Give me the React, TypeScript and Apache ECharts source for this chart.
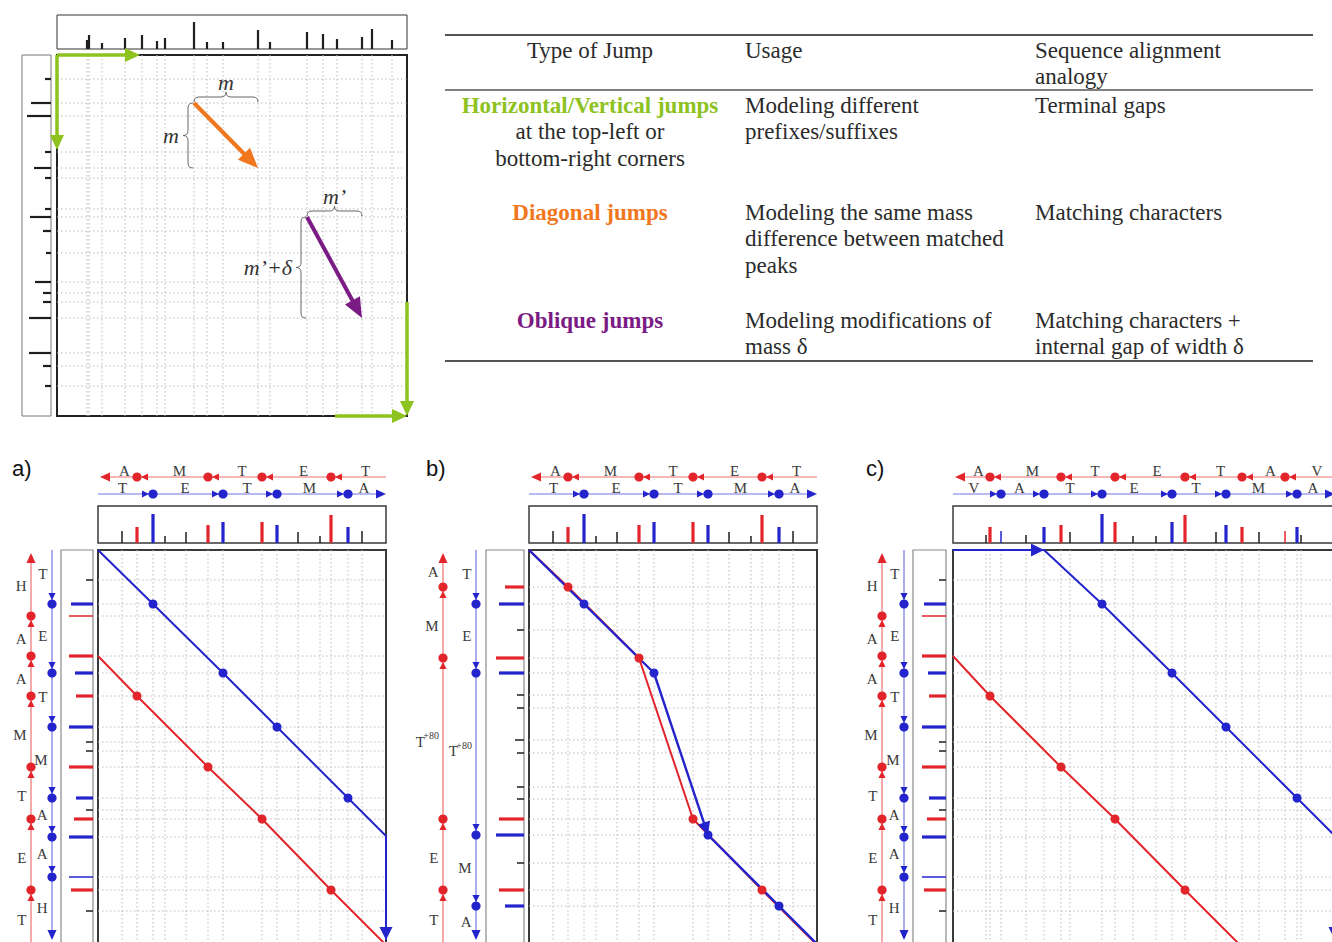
import React, { useEffect, useRef } from "react";
import * as echarts from "echarts";

const RED = "#e2242b";
const BLUE = "#2424cc";
const RED_LINE = "#ee7070";
const BLUE_LINE = "#7474e6";
const GREEN = "#8dc21f";
const ORANGE = "#f1771f";
const PURPLE = "#7a1c84";
const SERIF = "'Liberation Serif', 'Times New Roman', serif";
const SANS = "'Liberation Sans', Arial, sans-serif";
const TEXT = "#2b2b2b";

// ---------- overview spectrum graph (top-left) ----------
// [mass position, intensity]
const ovTopPeaks = [[30, 9], [32, 14], [45, 6], [68, 11], [85, 14], [100, 8], [108, 11], [137, 27], [150, 7], [166, 7], [201, 19], [213, 7], [250, 17], [266, 15], [280, 10], [305, 12], [315, 20], [335, 9]];
// [mass position, intensity]
const ovLeftPeaks = [[24, 6], [48, 20], [61, 24], [97, 6], [113, 17], [123, 6], [154, 6], [162, 21], [176, 8], [198, 5], [227, 16], [238, 8], [247, 8], [263, 22], [298, 22], [311, 8], [331, 6]];
// [x1, y1, x2, y2, kind]  kind 0 = horizontal/vertical, 1 = diagonal, 2 = oblique
const ovJumps = [[0, 0, 83, 0, 0], [0, 0, 0, 95, 0], [350, 247, 350, 361, 0], [278, 361, 350, 361, 0], [137, 48, 201, 113, 1], [250, 162, 305, 263, 2]];
const ovJumpLabels = [["", ""], ["m", "m"], ["m’", "m’+δ"]];

// ---------- spectra of panels a–c ----------
// [mass position, intensity, kind]  kind 0 = unexplained, 1 = prefix (red), 2 = suffix (blue), 3/4 = weak prefix/suffix
const specTETMA = [[24, 12, 0], [39, 16, 1], [55, 29, 2], [67, 7, 0], [88, 11, 0], [110, 18, 1], [125, 21, 2], [164, 21, 1], [179, 18, 2], [200, 11, 0], [222, 7, 0], [233, 28, 1], [250, 16, 2], [264, 12, 0]];
const specHAAMTET = [[30, 7, 0], [54, 22, 2], [66, 24, 3], [106, 24, 1], [123, 18, 2], [146, 17, 1], [177, 24, 2], [192, 7, 0], [201, 7, 0], [217, 24, 1], [248, 17, 2], [260, 7, 0], [269, 19, 1], [287, 24, 2], [327, 24, 4], [340, 22, 1], [361, 7, 0]];
const specAMT80ET = [[37, 19, 1], [54, 25, 2], [80, 7, 0], [108, 28, 1], [123, 25, 2], [145, 7, 0], [158, 7, 0], [190, 9, 0], [203, 7, 0], [237, 7, 0], [249, 7, 0], [269, 25, 1], [285, 28, 2], [313, 7, 0], [340, 25, 1], [356, 19, 2]];
const specVATETMA = [[33, 8, 0], [37, 16, 1], [48, 12, 4], [73, 8, 0], [91, 16, 2], [108, 18, 1], [117, 11, 0], [149, 29, 2], [162, 21, 1], [180, 7, 0], [203, 7, 0], [219, 21, 2], [232, 28, 1], [263, 11, 0], [273, 18, 2], [289, 16, 1], [306, 11, 0], [332, 12, 3], [344, 16, 2], [348, 8, 0]];

// ---------- sequences ----------
const aTopRed = ["A", "M", "T", "E", "T"];
const aTopBlue = ["T", "E", "T", "M", "A"];
const aLeftRed = ["H", "A", "A", "M", "T", "E", "T"];
const aLeftBlue = ["T", "E", "T", "M", "A", "A", "H"];
const bLeftRed = ["A", "M", "T+80", "E", "T"];
const bLeftBlue = ["T", "E", "T+80", "M", "A"];
const cTopRed = ["A", "M", "T", "E", "T", "A", "V"];
const cTopBlue = ["V", "A", "T", "E", "T", "M", "A"];

// ---------- alignment paths: [x mass, y mass, flag]  flag 1 = matched peak, 2 = arrow tip ----------
const aRed = [[0, 106, 0], [39, 146, 1], [110, 217, 1], [164, 269, 1], [233, 340, 1], [288, 395, 0]];
const aBlue = [[0, 0, 0], [55, 54, 1], [125, 123, 1], [179, 177, 1], [250, 248, 1], [288, 286, 0], [288, 390, 2]];
const bRed = [[0, 0, 0], [39, 37, 1], [110, 108, 1], [164, 269, 1], [233, 340, 1], [288, 395, 0]];
const bBlue = [[0, 0, 0], [55, 54, 1], [125, 123, 1], [179, 285, 3], [250, 356, 1], [288, 394, 0]];
const cRed = [[0, 106, 0], [37, 146, 1], [108, 217, 1], [162, 269, 1], [232, 340, 1], [290, 398, 0]];
const cBlue = [[0, 0, 0], [91, 0, 2], [149, 54, 1], [219, 123, 1], [273, 177, 1], [344, 248, 1], [382, 286, 0], [382, 390, 2]];

// ---------- table ----------
const tableHeader = ["Type of Jump", "Usage", "Sequence alignment|analogy"];
const tableJump = ["Horizontal/Vertical jumps", "Diagonal jumps", "Oblique jumps"];
const tableJumpNote = ["at the top-left or|bottom-right corners", "", ""];
const tableUsage = ["Modeling different|prefixes/suffixes", "Modeling the same mass|difference between matched|peaks", "Modeling modifications of|mass δ"];
const tableAnalogy = ["Terminal gaps", "Matching characters", "Matching characters +|internal gap of width δ"];
const tableColors = [GREEN, ORANGE, PURPLE];

const KIND_COLOR = ["#1e1e1e", RED, BLUE, RED, BLUE];

const txt = (text: string, x: number, y: number, o: any = {}) => ({
  type: "text",
  x,
  y,
  silent: true,
  z: o.z ?? 10,
  style: {
    text,
    fill: o.fill ?? TEXT,
    fontSize: o.size ?? 15,
    fontFamily: o.family ?? SERIF,
    fontStyle: o.italic ? "italic" : "normal",
    fontWeight: o.bold ? "bold" : "normal",
    align: o.align ?? "left",
    textAlign: o.align ?? "left",
    verticalAlign: o.va ?? "middle",
    textVerticalAlign: o.va ?? "middle",
  },
});

function unit(a: number[], b: number[]) {
  const dx = b[0] - a[0];
  const dy = b[1] - a[1];
  const L = Math.hypot(dx, dy) || 1;
  return [dx / L, dy / L];
}

function tri(tx: number, ty: number, u: number[], len: number, hw: number, color: string) {
  const nx = -u[1];
  const ny = u[0];
  return {
    type: "polygon",
    shape: {
      points: [
        [tx, ty],
        [tx - u[0] * len + nx * hw, ty - u[1] * len + ny * hw],
        [tx - u[0] * len - nx * hw, ty - u[1] * len - ny * hw],
      ],
    },
    style: { fill: color },
  };
}

function brace(ax: number, ay: number, bx: number, by: number, tx: number, ty: number, d: number, color: string) {
  const e = unit([ax, ay], [bx, by]);
  const mx = (ax + bx) / 2;
  const my = (ay + by) / 2;
  const st = { stroke: color, lineWidth: 1, fill: null };
  const q = (x1: number, y1: number, cx: number, cy: number, x2: number, y2: number) => ({ type: "bezierCurve", shape: { x1, y1, x2, y2, cpx1: cx, cpy1: cy }, style: st });
  const l = (x1: number, y1: number, x2: number, y2: number) => ({ type: "line", shape: { x1, y1, x2, y2 }, style: st });
  return [
    q(ax - tx * d, ay - ty * d, ax, ay, ax + e[0] * d, ay + e[1] * d),
    l(ax + e[0] * d, ay + e[1] * d, mx - e[0] * d, my - e[1] * d),
    q(mx - e[0] * d, my - e[1] * d, mx, my, mx + tx * d, my + ty * d),
    q(mx + tx * d, my + ty * d, mx, my, mx + e[0] * d, my + e[1] * d),
    l(mx + e[0] * d, my + e[1] * d, bx - e[0] * d, by - e[1] * d),
    q(bx - e[0] * d, by - e[1] * d, bx, by, bx - tx * d, by - ty * d),
  ];
}

function buildOption() {
  const grid: any[] = [];
  const xAxis: any[] = [];
  const yAxis: any[] = [];
  const series: any[] = [];
  const graphic: any[] = [];

  const addGrid = (left: number, top: number, width: number, height: number, xMax: number, yMax: number, xInv: boolean, yInv: boolean, border?: [string, number]) => {
    const i = grid.length;
    grid.push({
      left, top, width, height,
      show: !!border,
      borderColor: border ? border[0] : "transparent",
      borderWidth: border ? border[1] : 0,
      backgroundColor: "transparent",
      containLabel: false,
      outerBoundsMode: "none",
    });
    xAxis.push({ type: "value", gridIndex: i, min: 0, max: xMax, inverse: xInv, show: false, splitLine: { show: false } });
    yAxis.push({ type: "value", gridIndex: i, min: 0, max: yMax, inverse: yInv, show: false, splitLine: { show: false } });
    return i;
  };
  const custom = (g: number, data: any[], renderItem: any, z = 3) =>
    series.push({ type: "custom", xAxisIndex: g, yAxisIndex: g, data, renderItem, silent: true, z, clip: false });

  const topPeaks = (widths: number[]) => (params: any, api: any) => {
    const x = api.value(0);
    const h = api.value(1);
    const k = api.value(2) || 0;
    const a = api.coord([x, 0]);
    const b = api.coord([x, h]);
    return { type: "line", shape: { x1: a[0], y1: a[1], x2: b[0], y2: b[1] }, style: { stroke: KIND_COLOR[k], lineWidth: widths[k] } };
  };
  const sidePeaks = (widths: number[]) => (params: any, api: any) => {
    const y = api.value(0);
    const len = api.value(1);
    const k = api.value(2) || 0;
    const a = api.coord([0, y]);
    const b = api.coord([len, y]);
    return { type: "line", shape: { x1: a[0], y1: a[1], x2: b[0], y2: b[1] }, style: { stroke: KIND_COLOR[k], lineWidth: widths[k] } };
  };
  const dotted = { stroke: "#bcbcbc", lineWidth: 1, lineDash: [1.5, 2.5] };
  const vLines = (params: any, api: any) => {
    const cs = params.coordSys;
    const x = api.coord([api.value(0), 0])[0];
    return { type: "line", shape: { x1: x, y1: cs.y, x2: x, y2: cs.y + cs.height }, style: dotted };
  };
  const hLines = (params: any, api: any) => {
    const cs = params.coordSys;
    const y = api.coord([0, api.value(0)])[1];
    return { type: "line", shape: { x1: cs.x, y1: y, x2: cs.x + cs.width, y2: y }, style: dotted };
  };

  // ================= overview =================
  const ovL = 57, ovW = 350;
  const gOT = addGrid(ovL, 15, ovW, 34, ovW, 34, false, false, ["#333", 1]);
  const gOM = addGrid(ovL, 55, ovW, 361, ovW, 361, false, true, ["#222", 2]);
  const gOS = addGrid(22, 55, 29, 361, 29, 361, true, true, ["#777", 1]);
  custom(gOT, ovTopPeaks, topPeaks([2.2]));
  custom(gOS, ovLeftPeaks, sidePeaks([2.2]));
  custom(gOM, ovTopPeaks, vLines, 1);
  custom(gOM, ovLeftPeaks, hLines, 1);
  custom(gOM, ovJumps, (params: any, api: any) => {
    const k = api.value(4);
    const p1 = api.coord([api.value(0), api.value(1)]);
    const p2 = api.coord([api.value(2), api.value(3)]);
    const color = [GREEN, ORANGE, PURPLE][k];
    const lw = k === 0 ? 3.5 : 4;
    const len = k === 0 ? 15 : 20;
    const hw = k === 0 ? 7 : 8.5;
    const u = unit(p1, p2);
    const ch: any[] = [
      { type: "line", shape: { x1: p1[0], y1: p1[1], x2: p2[0] - u[0] * len * 0.7, y2: p2[1] - u[1] * len * 0.7 }, style: { stroke: color, lineWidth: lw } },
      tri(p2[0], p2[1], u, len, hw, color),
    ];
    if (k > 0) {
      const gap = 6, d = 5;
      const by = p1[1] - gap;
      const bx = p1[0] - gap;
      ch.push(...brace(p1[0], by, p2[0], by, 0, -1, d, "#666"));
      ch.push(...brace(bx, p1[1], bx, p2[1], -1, 0, d, "#666"));
      ch.push(txt(ovJumpLabels[k][0], (p1[0] + p2[0]) / 2, by - d - 10, { size: 22, italic: true, align: "center", fill: "#333" }));
      ch.push(txt(ovJumpLabels[k][1], bx - d - 4, (p1[1] + p2[1]) / 2, { size: 22, italic: true, align: "right", fill: "#333" }));
    }
    return { type: "group", children: ch };
  }, 6);

  // ================= panels a–c =================
  const panels = [
    { label: "a)", labelX: 12, left: 98, width: 288, sideLeft: 61, sideWidth: 32, redX: 31, blueX: 52, top: specTETMA, side: specHAAMTET, topRed: aTopRed, topBlue: aTopBlue, sideRed: aLeftRed, sideBlue: aLeftBlue, paths: [[aRed, RED, 2], [aBlue, BLUE, 2]] },
    { label: "b)", labelX: 426, left: 529, width: 288, sideLeft: 486, sideWidth: 38, redX: 443, blueX: 476, top: specTETMA, side: specAMT80ET, topRed: aTopRed, topBlue: aTopBlue, sideRed: bLeftRed, sideBlue: bLeftBlue, paths: [[bRed, RED, 2], [bBlue, BLUE, 2.4]] },
    { label: "c)", labelX: 866, left: 953, width: 382, sideLeft: 913, sideWidth: 33, redX: 882, blueX: 904, top: specVATETMA, side: specHAAMTET, topRed: cTopRed, topBlue: cTopBlue, sideRed: aLeftRed, sideBlue: aLeftBlue, paths: [[cRed, RED, 2], [cBlue, BLUE, 2]] },
  ];
  const MAT_TOP = 550, MAT_H = 420, SPEC_TOP = 506, SPEC_H = 37, SEQ_TOP = 465, SEQ_H = 35, SIDE_SPAN = 394;
  const widths = [1.5, 3.2, 3.2, 1.5, 1.5];

  const seqRender = (s: any) => (params: any, api: any) => {
    const P = (along: number) => (s.orient === "h" ? api.coord([along, s.cross]) : api.coord([s.cross, along]));
    const a = P(s.from);
    const b = P(s.to);
    const u = unit(a, b);
    const ch: any[] = [
      { type: "line", shape: { x1: a[0], y1: a[1], x2: b[0] - u[0] * 6, y2: b[1] - u[1] * 6 }, style: { stroke: s.lineColor, lineWidth: 1.2 } },
      tri(b[0], b[1], u, 10, 4.5, s.color),
    ];
    s.breaks.forEach((p: number) => {
      const c = P(p);
      ch.push({ type: "circle", shape: { cx: c[0], cy: c[1], r: 4.6 }, style: { fill: s.color } });
      ch.push(tri(c[0] - u[0] * 4, c[1] - u[1] * 4, u, 7, 3.6, s.color));
    });
    const stops = [s.span[0], ...s.breaks, s.span[1]];
    s.letters.forEach((t: string, i: number) => {
      const c = P((stops[i] + stops[i + 1]) / 2 + s.offset);
      if (s.orient === "h") {
        ch.push(txt(t, c[0], c[1] - 6, { size: 15, align: "center", fill: "#3a3a3a" }));
      } else if (t.indexOf("+") > 0) {
        const base = t.slice(0, t.indexOf("+"));
        const sup = t.slice(t.indexOf("+"));
        ch.push(txt(sup, c[0] - 4, c[1] - 6, { size: 10, align: "right", fill: "#3a3a3a" }));
        ch.push(txt(base, c[0] - 18, c[1], { size: 15, align: "right", fill: "#3a3a3a" }));
      } else {
        ch.push(txt(t, c[0] - 4.5, c[1], { size: 15, align: "right", fill: "#3a3a3a" }));
      }
    });
    return { type: "group", children: ch };
  };

  const headRender = (color: string, len: number, hw: number) => (params: any, api: any) => {
    const a = api.coord([api.value(0), api.value(1)]);
    const b = api.coord([api.value(2), api.value(3)]);
    return tri(b[0], b[1], unit(a, b), len, hw, color);
  };

  const redOf = (spec: number[][]) => spec.filter((p) => p[2] === 1 || p[2] === 3).map((p) => p[0]);
  const blueOf = (spec: number[][]) => spec.filter((p) => p[2] === 2 || p[2] === 4).map((p) => p[0]);

  panels.forEach((p) => {
    graphic.push(txt(p.label, p.labelX, 468, { size: 22, family: SANS, fill: "#111" }));
    const gT = addGrid(p.left, SPEC_TOP, p.width, SPEC_H, p.width, SPEC_H, false, false, ["#3a3a3a", 1.5]);
    const gM = addGrid(p.left, MAT_TOP, p.width, MAT_H, p.width, MAT_H, false, true, ["#3a3a3a", 2]);
    const gS = addGrid(p.sideLeft, MAT_TOP, p.sideWidth, MAT_H, p.sideWidth, MAT_H, true, true, ["#8a8a8a", 1.2]);
    const gQ = addGrid(p.left, SEQ_TOP, p.width, SEQ_H, p.width, SEQ_H, false, true);
    const gV = addGrid(p.redX - 25, MAT_TOP, 60, MAT_H, 60, MAT_H, false, true);

    custom(gT, p.top, topPeaks(widths));
    custom(gS, p.side, sidePeaks(widths));
    custom(gM, p.top, vLines, 1);
    custom(gM, p.side, hLines, 1);

    custom(gQ, [[0, 0]], seqRender({ orient: "h", from: p.width, to: 2, cross: 12, breaks: redOf(p.top), letters: p.topRed, span: [0, p.width], offset: 7, color: RED, lineColor: RED_LINE }));
    custom(gQ, [[0, 0]], seqRender({ orient: "h", from: 0, to: p.width, cross: 29, breaks: blueOf(p.top), letters: p.topBlue, span: [0, p.width], offset: -3, color: BLUE, lineColor: BLUE_LINE }));
    custom(gV, [[0, 0]], seqRender({ orient: "v", from: 420, to: 3, cross: 25, breaks: redOf(p.side), letters: p.sideRed, span: [0, SIDE_SPAN], offset: 3, color: RED, lineColor: RED_LINE }));
    custom(gV, [[0, 0]], seqRender({ orient: "v", from: 0, to: 390, cross: 25 + (p.blueX - p.redX), breaks: blueOf(p.side), letters: p.sideBlue, span: [0, SIDE_SPAN], offset: -3, color: BLUE, lineColor: BLUE_LINE }));

    p.paths.forEach((path: any) => {
      const pts = path[0] as number[][];
      const color = path[1] as string;
      const lw = path[2] as number;
      series.push({
        type: "line",
        xAxisIndex: gM,
        yAxisIndex: gM,
        data: pts.map((v) => ({ value: [v[0], v[1]], symbol: v[2] & 1 ? "circle" : "none", symbolSize: 9 })),
        lineStyle: { color, width: lw },
        itemStyle: { color },
        silent: true,
        clip: false,
        z: 5,
      });
      const heads: number[][] = [];
      for (let i = 1; i < pts.length; i++) if (pts[i][2] & 2) heads.push([pts[i - 1][0], pts[i - 1][1], pts[i][0], pts[i][1]]);
      if (heads.length) custom(gM, heads, headRender(color, 13, 6.5), 6);
    });
  });

  // ================= table =================
  const TL = 445, TR = 1313;
  const rule = (y: number, w: number) => ({ type: "line", silent: true, shape: { x1: TL, y1: y, x2: TR, y2: y }, style: { stroke: "#555", lineWidth: w } });
  graphic.push(rule(35, 2), rule(90, 1.5), rule(361, 2));
  const C1 = 590, C2 = 745, C3 = 1035, LH = 26.5, FS = 23;
  const lines = (s: string, x: number, y: number, o: any) => s.split("|").forEach((t, i) => {
    if (t) graphic.push(txt(t, x, y + i * LH, { size: FS, ...o }));
  });
  lines(tableHeader[0], C1, 50, { align: "center" });
  lines(tableHeader[1], C2, 50, {});
  lines(tableHeader[2], C3, 50, {});
  const rowY = [105, 212, 320];
  tableJump.forEach((j, i) => {
    lines(j, C1, rowY[i], { align: "center", bold: true, fill: tableColors[i] });
    lines(tableJumpNote[i], C1, rowY[i] + LH, { align: "center" });
    lines(tableUsage[i], C2, rowY[i], {});
    lines(tableAnalogy[i], C3, rowY[i], {});
  });

  return { animation: false, backgroundColor: "#ffffff", grid, xAxis, yAxis, series, graphic };
}

export default function App() {
  const ref = useRef<HTMLDivElement>(null);
  useEffect(() => {
    if (!ref.current) return;
    const chart = echarts.init(ref.current, null, { renderer: "svg" });
    chart.setOption(buildOption() as any);
    return () => chart.dispose();
  }, []);
  return <div ref={ref} style={{ position: "fixed", left: 0, top: 0, width: 1332, height: 942, background: "#fff" }} />;
}
